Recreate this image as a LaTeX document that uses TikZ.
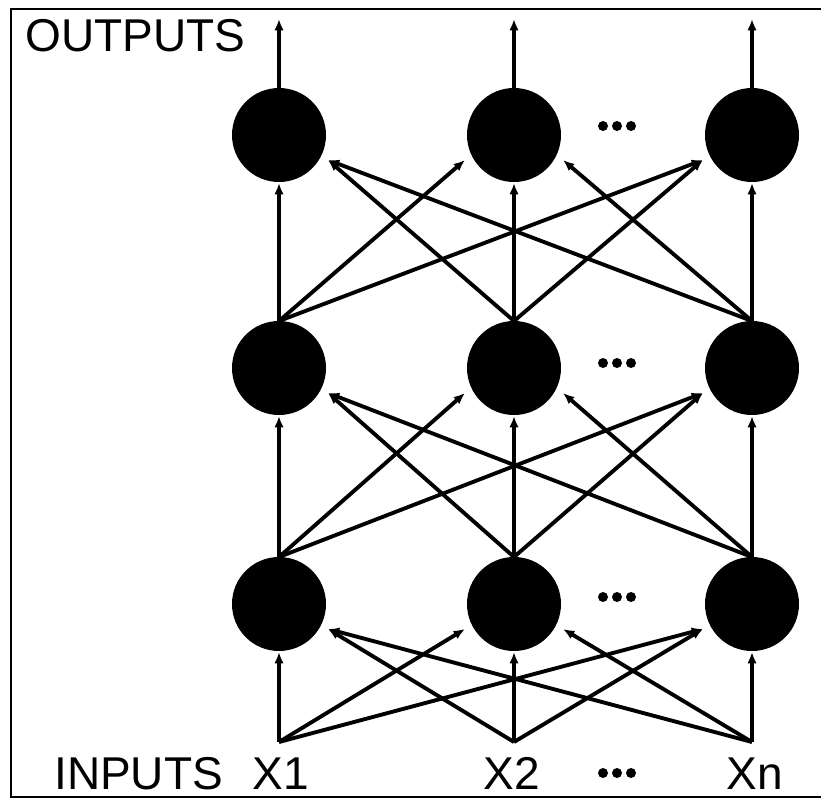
\documentclass[tikz,border=0pt]{standalone}
\usepackage{fontspec}
\setmainfont{Liberation Sans}
\usetikzlibrary{arrows.meta,calc}
\begin{document}
\begin{tikzpicture}[x=0.75pt,y=-0.75pt,
  neuron/.style={circle,fill=black,minimum size=70.5pt,inner sep=0pt},
  conn/.style={line width=2.9pt,-{Latex[length=8.5pt,width=7pt]}},
  frameline/.style={line width=2.2pt},
  lbl/.style={font=\fontsize{34.5}{40}\selectfont,inner sep=0pt},
  dotmark/.style={fill=black,circle,minimum size=7.5pt,inner sep=0pt}]
\useasboundingbox (0,0) rectangle (821,799);
\draw[frameline] (821,9) -- (11,9) -- (11,797) -- (821,797);
% neurons and their ports
\foreach \r/\y in {1/135,2/368,3/604}{
  \foreach \c/\x in {1/279,2/514,3/752}{
    \node[neuron] (n\r\c) at (\x,\y) {};
    \coordinate (t\r\c) at (\x,\y-47);
    \coordinate (b\r\c) at (\x,\y+48);
    \coordinate (l\r\c) at (\x-49,\y+25);
    \coordinate (rp\r\c) at (\x+49,\y+25);
  }
}
% inputs and outputs
\foreach \c/\x in {1/279,2/514,3/752}{
  \coordinate (in\c) at (\x,742);
  \coordinate (o\c) at (\x,19);
  \draw[conn] (t1\c) -- (o\c);
}
% layer connections
\foreach \lo/\up in {2/1,3/2}{
  \foreach \j/\i/\p in {1/1/b,1/2/l,1/3/l,2/1/rp,2/2/b,2/3/l,3/1/rp,3/2/rp,3/3/b}{
    \draw[conn] (t\lo\j) -- (\p\up\i);
  }
}
\foreach \j/\i/\p in {1/1/b,1/2/l,1/3/l,2/1/rp,2/2/b,2/3/l,3/1/rp,3/2/rp,3/3/b}{
  \draw[conn] (in\j) -- (\p3\i);
}
% ellipsis dots
\foreach \y [count=\k] in {126,363,597,773}{
  \node[dotmark] (da\k) at (603,\y) {};
  \node[dotmark] (db\k) at (617,\y) {};
  \node[dotmark] (dc\k) at (631,\y) {};
}
% labels
\node[lbl,anchor=base west] (outl) at (25,52) {OUTPUTS};
\node[lbl,anchor=base west] (inl) at (54,789) {INPUTS};
\node[lbl,anchor=base] (x1) at (281,789) {X1};
\node[lbl,anchor=base] (x2) at (512,789) {X2};
\node[lbl,anchor=base] (xn) at (755,789) {Xn};
\end{tikzpicture}
\end{document}
